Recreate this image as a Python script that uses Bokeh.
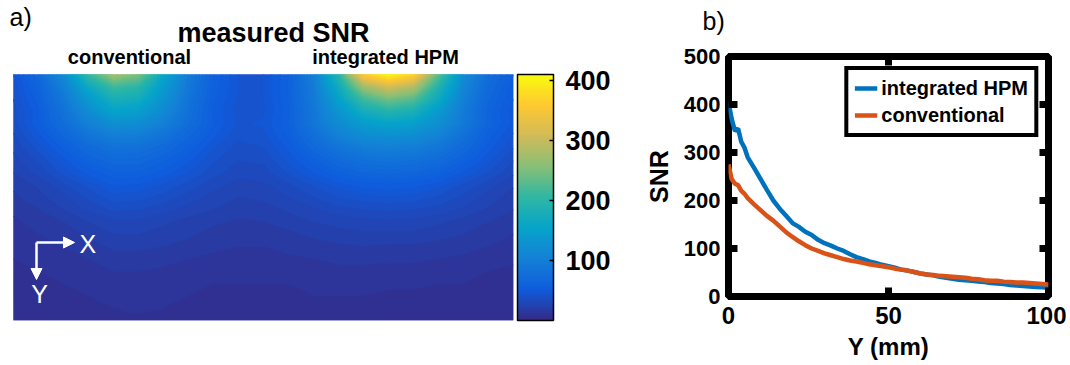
import numpy as np
from bokeh.plotting import figure
from bokeh.models import (Range1d, LinearColorMapper, ColorBar, FixedTicker, Label,
                          Arrow, NormalHead, Legend, LegendItem)
from bokeh.layouts import row, column
from bokeh.embed import file_html
from bokeh.resources import INLINE

# ---------------- data ----------------
# panel b: SNR along depth Y (mm)
y_mm = [0, 1, 2, 3, 4, 5, 6, 8, 10, 12, 14, 16, 18, 20, 22, 24, 26, 28, 30, 32, 34, 36, 38, 40,
        42, 44, 46, 48, 50, 52, 54, 56, 58, 60, 62, 64, 66, 68, 70, 72, 74, 76, 78, 80, 82, 84,
        86, 88, 90, 92, 94, 96, 98, 100]
snr_hpm = [405, 370, 345, 350, 322, 310, 290, 268, 245, 222, 200, 183, 168, 153, 145, 135, 128,
           118, 111, 106, 100, 95, 88, 82, 78, 73, 70, 66, 63, 60, 56, 54, 51, 48, 46, 44, 41, 39,
           37, 35, 34, 33, 31, 30, 28, 27, 26, 24, 23, 22, 21, 20, 19, 18]
snr_conv = [275, 245, 235, 232, 220, 214, 205, 192, 180, 168, 158, 146, 134, 124, 115, 107, 100,
            95, 90, 86, 82, 78, 75, 73, 70, 67, 65, 63, 61, 58, 56, 54, 51, 48, 46, 45, 43, 42,
            41, 40, 39, 37, 36, 34, 33, 33, 31, 30, 29, 29, 28, 27, 26, 25]

# panel a: measured SNR map, columns X (mm), rows depth (mm), top row = depth 0
map_x_mm = [0, 10, 20, 30, 40, 50, 60, 70, 80, 90, 100, 110, 120, 130, 140, 150, 160, 170, 180, 190, 200]
map_depth_mm = [0, 5, 10, 15, 20, 25, 30, 35, 40, 45, 50, 55, 60, 65, 70, 75, 80, 85, 90, 95, 100]
snr_map = [
    [45, 70, 120, 210, 275, 250, 160, 95, 60, 45, 45, 60, 100, 200, 360, 405, 370, 230, 120, 75, 55],
    [42, 62, 100, 165, 214, 200, 140, 90, 58, 45, 45, 60, 95, 170, 270, 310, 285, 190, 110, 70, 52],
    [40, 58, 90, 140, 180, 172, 128, 85, 56, 44, 45, 60, 92, 150, 215, 245, 228, 165, 102, 66, 50],
    [38, 54, 82, 120, 152, 146, 115, 80, 54, 43, 44, 58, 88, 132, 174, 192, 181, 140, 94, 62, 47],
    [38, 54, 76, 102, 124, 121, 101, 76, 55, 44, 46, 60, 87, 118, 143, 153, 147, 124, 92, 63, 48],
    [34, 48, 66, 85, 99, 97, 84, 66, 51, 41, 43, 56, 77, 101, 119, 124, 120, 104, 80, 57, 44],
    [31, 42, 56, 71, 81, 80, 71, 58, 45, 38, 40, 51, 68, 85, 96, 100, 97, 87, 70, 52, 40],
    [28, 36, 48, 61, 69, 68, 61, 51, 41, 35, 36, 46, 58, 71, 80, 83, 80, 73, 59, 46, 35],
    [25, 32, 42, 52, 59, 59, 53, 45, 37, 32, 33, 41, 50, 59, 65, 67, 65, 59, 49, 40, 31],
    [21, 26, 34, 42, 50, 49, 44, 38, 32, 28, 29, 34, 41, 47, 52, 53, 52, 47, 39, 32, 26],
    [19, 23, 29, 36, 43, 42, 38, 33, 28, 25, 26, 30, 35, 40, 43, 44, 43, 39, 34, 28, 22],
    [16, 20, 25, 31, 36, 35, 32, 28, 25, 22, 23, 26, 29, 33, 35, 36, 35, 33, 29, 24, 20],
    [14, 17, 20, 25, 29, 29, 26, 23, 21, 19, 20, 22, 25, 27, 28, 29, 28, 26, 23, 20, 17],
    [12, 15, 17, 21, 25, 25, 23, 21, 18, 17, 17, 19, 21, 23, 24, 24, 24, 22, 20, 17, 15],
    [11, 12, 15, 18, 21, 21, 20, 18, 16, 15, 15, 17, 18, 19, 20, 19, 19, 18, 17, 15, 12],
    [10, 11, 13, 15, 18, 18, 17, 15, 14, 13, 13, 14, 15, 16, 16, 16, 16, 15, 14, 12, 11],
    [9, 10, 11, 13, 15, 15, 14, 13, 12, 11, 11, 12, 13, 14, 14, 13, 13, 13, 12, 10, 9],
    [8, 8, 10, 11, 13, 13, 12, 12, 10, 10, 10, 10, 11, 12, 11, 11, 11, 10, 10, 9, 8],
    [7, 8, 9, 10, 12, 12, 11, 10, 10, 9, 9, 9, 10, 10, 10, 9, 9, 9, 8, 8, 7],
    [6, 7, 8, 9, 10, 11, 10, 9, 9, 8, 8, 8, 8, 8, 8, 8, 8, 8, 7, 6, 6],
    [5, 6, 7, 8, 9, 9, 8, 8, 7, 7, 7, 7, 7, 7, 7, 6, 6, 6, 6, 6, 5],
]
colorbar_ticks = [100, 200, 300, 400]
snr_ticks = [0, 100, 200, 300, 400, 500]
depth_ticks = [0, 50, 100]

# ---------------- styling ----------------
FONT = "Liberation Sans"
parula_anchors = ['#352a87', '#0f5cdd', '#1481d6', '#06a4ca', '#2eb7a4',
                  '#87bf77', '#d1bb59', '#fec832', '#f9fb0e']
CB_LOW, CB_HIGH = 0, 410


def build_palette(anchors, n=256):
    rgb = np.array([[int(h[i:i + 2], 16) for i in (1, 3, 5)] for h in anchors], float)
    t = np.linspace(0, 1, len(anchors))
    s = np.linspace(0, 1, n)
    cols = np.stack([np.interp(s, t, rgb[:, k]) for k in range(3)], 1)
    return ['#%02x%02x%02x' % tuple(int(round(v)) for v in c) for c in cols]


parula = build_palette(parula_anchors)


def pal_at(v):
    i = int((v - CB_LOW) / (CB_HIGH - CB_LOW) * len(parula))
    return parula[max(0, min(len(parula) - 1, i))]


# ---------------- panel a ----------------
x_max = map_x_mm[-1]
d_max = map_depth_mm[-1]

# frame: page x 8..513, y 4..320 ; map occupies x 13..513, y 74..320
sx1 = 500 / x_max
sy1 = 246 / d_max
FR1_LEFT, FR1_TOP, FR1_BOTTOM, IMG_LEFT = 8, 4, 320, 13
W1, H = 640, 362

p1 = figure(width=W1, height=H, output_backend="svg", toolbar_location=None,
            x_range=Range1d(-(IMG_LEFT - FR1_LEFT) / sx1, x_max),
            y_range=Range1d(0, (FR1_BOTTOM - FR1_TOP) / sy1),
            min_border_left=FR1_LEFT, min_border_right=W1 - 513,
            min_border_top=FR1_TOP, min_border_bottom=H - FR1_BOTTOM)
p1.axis.visible = False
p1.grid.visible = False
p1.outline_line_color = None
p1.background_fill_color = "white"

mapper = LinearColorMapper(palette=parula, low=CB_LOW, high=CB_HIGH)
z = np.flipud(np.array(snr_map, dtype=float))
height_mm = [d_max - d for d in map_depth_mm[::-1]]
p1.image(image=[z], x=map_x_mm[0], y=0, dw=x_max, dh=d_max, color_mapper=mapper)
levels = np.linspace(CB_LOW, CB_HIGH, 83)
band_cols = [pal_at(0.5 * (a + b)) for a, b in zip(levels[:-1], levels[1:])]
level_cols = [pal_at(v) for v in levels]
p1.contour(x=map_x_mm, y=height_mm, z=z, levels=levels, fill_color=band_cols,
           line_color=level_cols, line_width=1.2)

cb = ColorBar(color_mapper=mapper, ticker=FixedTicker(ticks=colorbar_ticks),
              width=36, height=246, padding=0, margin=0, location=(4, 0),
              major_label_text_font=FONT, major_label_text_font_size="27px",
              major_label_text_font_style="bold", major_label_text_color="black",
              label_standoff=12,
              bar_line_color="black", bar_line_width=1.5,
              major_tick_line_color="black", major_tick_line_width=1.5,
              major_tick_in=4, major_tick_out=0, minor_tick_line_color=None)
p1.add_layout(cb, "right")


def a_x(px):
    return (px - IMG_LEFT) / sx1


def a_y(py):
    return (FR1_BOTTOM - py) / sy1


p1.add_layout(Label(x=a_x(9), y=a_y(30), text="a)", text_font=FONT, text_font_size="25px",
                    text_color="black"))
p1.add_layout(Label(x=a_x(273), y=a_y(47), text="measured SNR", text_font=FONT,
                    text_font_size="27px", text_font_style="bold", text_align="center",
                    text_color="black"))
p1.add_layout(Label(x=a_x(129), y=a_y(67), text="conventional", text_font=FONT,
                    text_font_size="20px", text_font_style="bold", text_align="center",
                    text_color="black"))
p1.add_layout(Label(x=a_x(385), y=a_y(67), text="integrated HPM", text_font=FONT,
                    text_font_size="20px", text_font_style="bold", text_align="center",
                    text_color="black"))

head_kw = dict(size=11, fill_color="white", line_color="white")
p1.add_layout(Arrow(x_start=a_x(36), y_start=a_y(242), x_end=a_x(74), y_end=a_y(242),
                    line_color="white", line_width=2.5, end=NormalHead(**head_kw)))
p1.add_layout(Arrow(x_start=a_x(36), y_start=a_y(242), x_end=a_x(36), y_end=a_y(279),
                    line_color="white", line_width=2.5, end=NormalHead(**head_kw)))
p1.add_layout(Label(x=a_x(79), y=a_y(243), text="X", text_font=FONT, text_font_size="25px",
                    text_color="white", text_baseline="middle"))
p1.add_layout(Label(x=a_x(39), y=a_y(279), text="Y", text_font=FONT, text_font_size="25px",
                    text_color="white", text_baseline="top", text_align="center"))

# ---------------- panel b ----------------
W2 = 426
HB = 40          # strip above panel b holding the "b)" tag
FR2_LEFT, FR2_RIGHT, FR2_TOP, FR2_BOTTOM = 728, 1048, 56, 297
H2 = H - HB

pb = figure(width=W2, height=HB, output_backend="svg", toolbar_location=None,
            x_range=Range1d(W1, W1 + W2), y_range=Range1d(0, HB), min_border=0)
pb.axis.visible = False
pb.grid.visible = False
pb.outline_line_color = None
pb.add_layout(Label(x=702, y=HB - 20, text="b)", text_font=FONT, text_font_size="25px",
                    text_color="black", text_baseline="middle"))

p2 = figure(width=W2, height=H2, output_backend="svg", toolbar_location=None,
            x_range=Range1d(0, 100), y_range=Range1d(0, 500),
            min_border_left=FR2_LEFT - W1, min_border_right=W1 + W2 - FR2_RIGHT,
            min_border_top=FR2_TOP - HB, min_border_bottom=H - FR2_BOTTOM)
p2.grid.visible = False
p2.outline_line_color = "black"
p2.outline_line_width = 7

r_hpm = p2.line(y_mm, snr_hpm, line_color="#0072BD", line_width=4.5)
r_conv = p2.line(y_mm, snr_conv, line_color="#D95319", line_width=4.5)

p2.xaxis.ticker = FixedTicker(ticks=depth_ticks)
p2.yaxis.ticker = FixedTicker(ticks=snr_ticks)
for ax in (p2.xaxis[0], p2.yaxis[0]):
    ax.axis_line_color = None
    ax.major_tick_line_color = "black"
    ax.major_tick_line_width = 7
    ax.major_tick_in = 9
    ax.major_tick_out = 0
    ax.minor_tick_line_color = None
    ax.major_label_text_font = FONT
    ax.major_label_text_font_style = "bold"
    ax.major_label_text_color = "black"
    ax.axis_label_text_font = FONT
    ax.axis_label_text_font_style = "bold"
    ax.axis_label_text_color = "black"
p2.xaxis.major_label_text_font_size = "24px"
p2.xaxis.major_label_standoff = 10
p2.xaxis.axis_label = "Y (mm)"
p2.xaxis.axis_label_text_font_size = "24px"
p2.xaxis.axis_label_standoff = 6
p2.yaxis.major_label_text_font_size = "22px"
p2.yaxis.major_label_standoff = 8
p2.yaxis.axis_label = "SNR"
p2.yaxis.axis_label_text_font_size = "25px"
p2.yaxis.axis_label_standoff = 8

# mirrored inward ticks on the right and top edges
tick_len_x = 9 / ((FR2_RIGHT - FR2_LEFT) / (p2.x_range.end - p2.x_range.start))
tick_len_y = 9 / ((FR2_BOTTOM - FR2_TOP) / (p2.y_range.end - p2.y_range.start))
xe, ye = p2.x_range.end, p2.y_range.end
p2.segment(x0=[xe - tick_len_x] * len(snr_ticks), y0=snr_ticks,
           x1=[xe] * len(snr_ticks), y1=snr_ticks, line_color="black", line_width=7)
p2.segment(x0=depth_ticks, y0=[ye - tick_len_y] * len(depth_ticks),
           x1=depth_ticks, y1=[ye] * len(depth_ticks), line_color="black", line_width=7)

legend = Legend(items=[LegendItem(label="integrated HPM", renderers=[r_hpm]),
                       LegendItem(label="conventional", renderers=[r_conv])],
                location="top_right", margin=10, padding=6, spacing=3,
                glyph_width=23, glyph_height=24, label_height=24, label_standoff=4,
                label_text_font=FONT, label_text_font_size="20px",
                label_text_font_style="bold", label_text_color="black",
                border_line_color="black", border_line_alpha=1.0,
                border_line_width=4, background_fill_alpha=1)
p2.add_layout(legend)

layout = row(p1, column(row(pb), p2))
open("out.html", "w").write(file_html(layout, INLINE))
